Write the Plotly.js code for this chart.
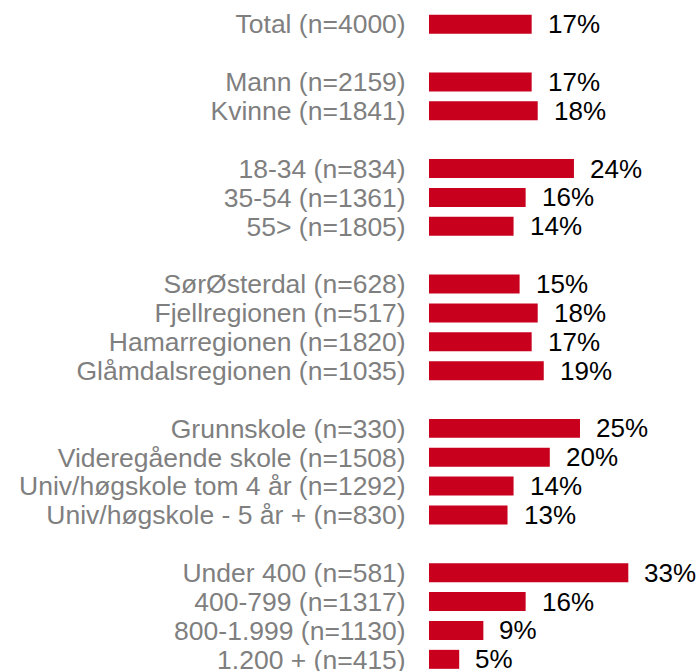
<!DOCTYPE html>
<html>
<head>
<meta charset="utf-8">
<script src="https://cdn.plot.ly/plotly-3.0.1.min.js"></script>
<style>html,body{margin:0;padding:0;background:#fff;}#chart{width:700px;height:671px;}</style>
</head>
<body>
<div id="chart"></div>
<script>
// Data: groups of categories, separated by blank rows
const groupTotal = ["Total (n=4000)"];
const valuesTotal = [17];
const groupGender = ["Mann (n=2159)", "Kvinne (n=1841)"];
const valuesGender = [17, 18];
const groupAge = ["18-34 (n=834)", "35-54 (n=1361)", "55> (n=1805)"];
const valuesAge = [24, 16, 14];
const groupRegion = ["SørØsterdal (n=628)", "Fjellregionen (n=517)", "Hamarregionen (n=1820)", "Glåmdalsregionen (n=1035)"];
const valuesRegion = [15, 18, 17, 19];
const groupEdu = ["Grunnskole (n=330)", "Videregående skole (n=1508)", "Univ/høgskole tom 4 år (n=1292)", "Univ/høgskole - 5 år + (n=830)"];
const valuesEdu = [25, 20, 14, 13];
const groupIncome = ["Under 400 (n=581)", "400-799 (n=1317)", "800-1.999 (n=1130)", "1.200 + (n=415)"];
const valuesIncome = [33, 16, 9, 5];

const groups = [
  [groupTotal, valuesTotal],
  [groupGender, valuesGender],
  [groupAge, valuesAge],
  [groupRegion, valuesRegion],
  [groupEdu, valuesEdu],
  [groupIncome, valuesIncome]
];

// Build row slots: one blank slot between groups
const cats = [], vals = [], slots = [];
let s = 0;
groups.forEach((g, gi) => {
  if (gi > 0) s += 1;
  g[0].forEach((c, i) => {
    cats.push(c); vals.push(g[1][i]); slots.push(s); s += 1;
  });
});

const FONT = "Arial, 'Liberation Sans', sans-serif";

const trace = {
  type: 'bar',
  orientation: 'h',
  x: vals,
  y: slots,
  width: 0.658,
  marker: {color: '#C8001E', line: {width: 0}},
  hoverinfo: 'none'
};

const annotations = vals.map((v, i) => ({
  x: v, y: slots[i], xref: 'x', yref: 'y',
  text: v + '%', showarrow: false,
  xanchor: 'left', yanchor: 'middle', xshift: 14,
  font: {family: FONT, size: 26, color: '#000000'}
}));

const layout = {
  width: 700, height: 671,
  margin: {l: 429, r: 0, t: 0, b: 0, pad: 0},
  paper_bgcolor: '#ffffff', plot_bgcolor: '#ffffff',
  showlegend: false,
  xaxis: {range: [0, 44.87], visible: false, fixedrange: true},
  yaxis: {
    range: [22.404, -0.838],
    tickmode: 'array', tickvals: slots, ticktext: cats,
    showgrid: false, zeroline: false, showline: false,
    ticks: 'outside', ticklen: 17, tickcolor: 'rgba(0,0,0,0)',
    ticklabeloverflow: 'allow',
    tickfont: {family: FONT, size: 26.5, color: '#7F7F7F'},
    automargin: false, fixedrange: true
  },
  annotations: annotations
};

Plotly.newPlot('chart', [trace], layout, {staticPlot: true, displayModeBar: false});
</script>
</body>
</html>
